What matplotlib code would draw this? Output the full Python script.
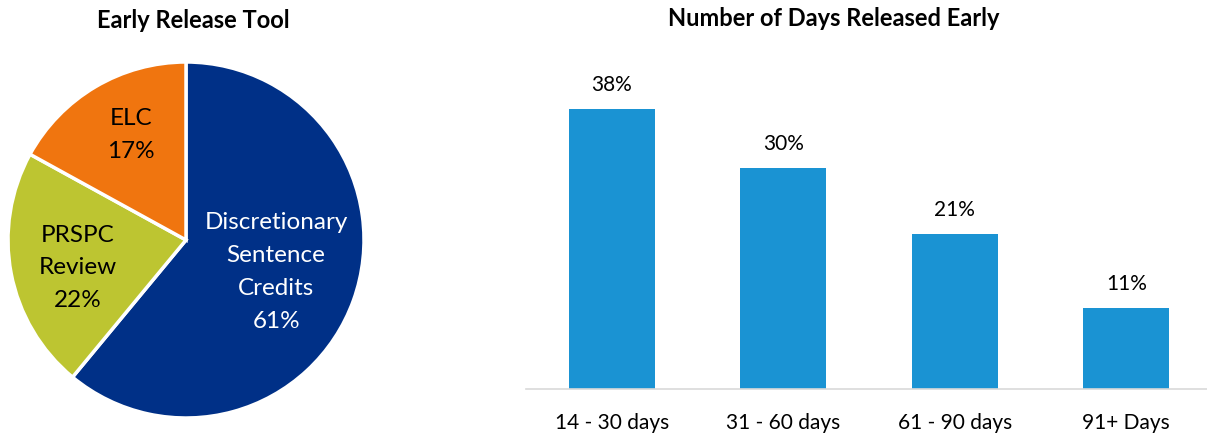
import matplotlib
matplotlib.use('Agg')
import matplotlib.pyplot as plt

plt.rcParams['font.family'] = ['Lato', 'DejaVu Sans']

# pie data
tools      = ['Discretionary\nSentence\nCredits', 'PRSPC\nReview', 'ELC']
tool_share = [61, 22, 17]
tool_cols  = ['#003087', '#BDC531', '#F0750F']
tool_txt   = ['white', 'black', 'black']

# bar data
day_bins  = ['14 - 30 days', '31 - 60 days', '61 - 90 days', '91+ Days']
day_share = [38, 30, 21, 11]
bar_col   = '#1A93D3'

W, H = 1207, 436
fig = plt.figure(figsize=(W/100, H/100), dpi=100)

# ---- pie ----
cx, cy, r = 186, 240, 178
axp = fig.add_axes([(cx - r)/W, (H - cy - r)/H, 2*r/W, 2*r/H])
wedges, _ = axp.pie(tool_share, colors=tool_cols, startangle=90, counterclock=False,
                    wedgeprops=dict(edgecolor='white', linewidth=2.5))
axp.set_xlim(-1, 1)
axp.set_ylim(-1, 1)
axp.set_aspect('equal')
# label offsets (fraction of radius)
lab_pos = [(0.506, -0.18), (-0.61, -0.157), (-0.31, 0.59)]
for name, v, c, (x, y) in zip(tools, tool_share, tool_txt, lab_pos):
    axp.text(x, y, f'{name}\n{v}%', ha='center', va='center', color=c,
             fontsize=17.5, linespacing=1.7)

fig.text(193/W, 1 - 20/H, 'Early Release Tool', ha='center', va='center',
         fontsize=17, fontweight='bold')

# ---- bars ----
base = 389
ppu = 7.37
top = 40
axb = fig.add_axes([526/W, (H - base)/H, 686/W, (base - top)/H])
xs = range(len(day_bins))
axb.bar(xs, day_share, width=0.5, color=bar_col)
axb.set_xlim(-0.5, 3.5)
axb.set_ylim(0, (base - top)/ppu)
for x, v in zip(xs, day_share):
    axb.annotate(f'{v}%', (x, v), xytext=(0, 17.5), textcoords='offset points',
                 ha='center', va='center', fontsize=15)
axb.set_xticks(list(xs))
axb.set_xticklabels(day_bins, fontsize=15)
axb.tick_params(axis='x', length=0, pad=17)
axb.set_yticks([])
for s in ['top', 'right', 'left']:
    axb.spines[s].set_visible(False)
axb.spines['bottom'].set_color('#D9D9D9')
axb.spines['bottom'].set_linewidth(1.2)

fig.text(834/W, 1 - 18/H, 'Number of Days Released Early', ha='center', va='center',
         fontsize=17, fontweight='bold')

fig.savefig('out.png', dpi=100)
